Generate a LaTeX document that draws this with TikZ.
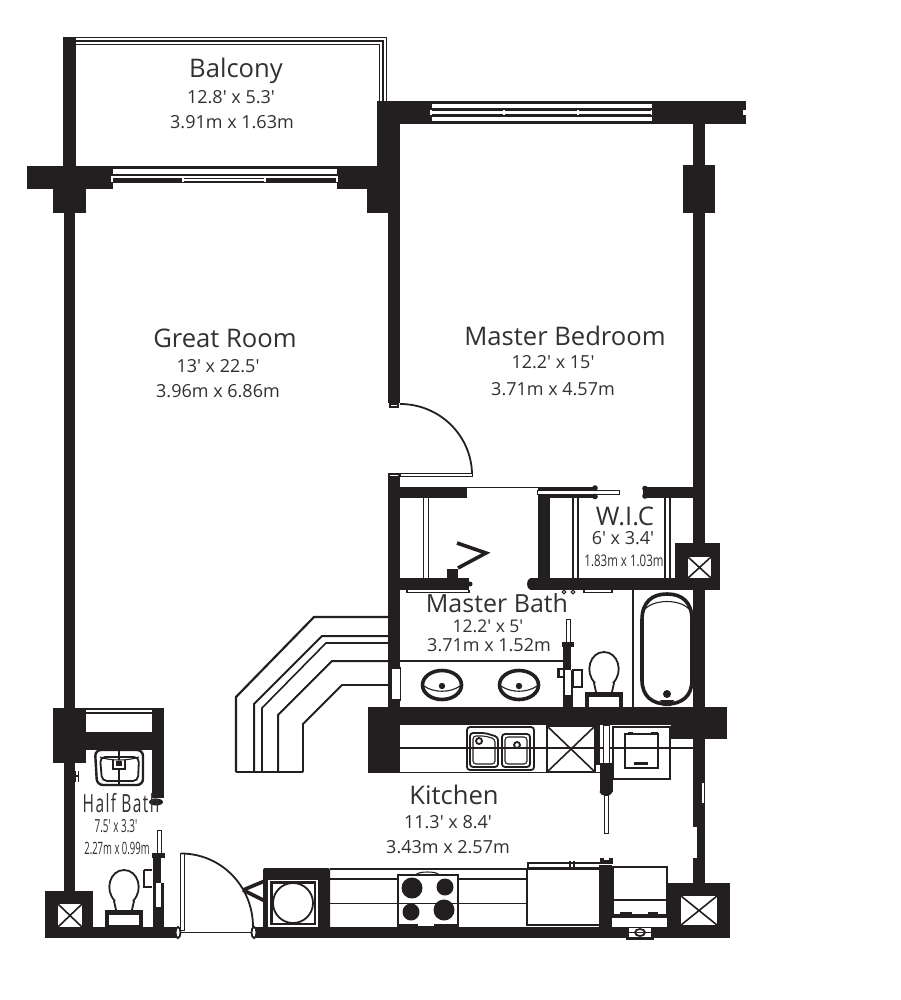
\documentclass[tikz,border=0pt]{standalone}
\usepackage{fontspec}
\setmainfont{Open Sans}
\definecolor{ink}{HTML}{231F20}
\definecolor{txt}{HTML}{333031}
\tikzset{
  wallfill/.style={fill=ink,draw=none},
  paper/.style={fill=white,draw=none},
  thin line/.style={draw=ink,line width=1.1pt},
  mid line/.style={draw=ink,line width=1.8pt},
  thick line/.style={draw=ink,line width=3.6pt},
  leaf/.style={fill=white,draw=ink,line width=1pt},
  post/.style={draw=white,line width=1.8pt},
  room/.style={text=txt,font=\fontsize{25.6}{26}\selectfont,inner sep=0pt},
  dim/.style={text=txt,font=\fontsize{18}{18}\selectfont,inner sep=0pt},
}
\newcommand{\blk}[4]{\fill[wallfill] (#1,#2) rectangle (#3,#4);}
\newcommand{\wht}[4]{\fill[paper] (#1,#2) rectangle (#3,#4);}
\newcommand{\xbox}[4]{\fill[paper] (#1,#2) rectangle (#3,#4);
  \draw[wallfill,draw=ink,line width=1.6pt] (#1,#2) -- (#3,#4) (#1,#4) -- (#3,#2);}
\newcommand{\toilet}[2]{%
  \draw[mid line,fill=white] (#1-9,#2+13) .. controls (#1-20,#2+2) and (#1-14,#2-18) .. (#1,#2-18)
     .. controls (#1+14,#2-18) and (#1+20,#2+2) .. (#1+9,#2+13);
  \draw[mid line] (#1-10,#2+13) -- (#1-8,#2+22) (#1+10,#2+13) -- (#1+8,#2+22);
  \fill[wallfill] (#1-19,#2+22) rectangle (#1+19,#2+39);
  \fill[paper] (#1-15,#2+27) rectangle (#1+15,#2+37);}
\newcommand{\basin}[2]{%
  \draw[draw=ink,line width=3.6pt,fill=white] (#1,#2) ellipse [x radius=19.5pt,y radius=14.5pt];
  \draw[thin line] (#1-18,#2+1) .. controls (#1-8,#2+8) and (#1+8,#2+8) .. (#1+18,#2+1);
  \fill[wallfill] (#1,#2+1) circle (3.2pt);}
\begin{document}
\begin{tikzpicture}[x=1pt,y=-1pt]
\useasboundingbox[fill=white] (0,0) rectangle (900,1000);

% balcony rail
\draw[thin line] (76,37.5) -- (386.5,37.5) -- (386.5,101);
\draw[thin line] (76,41) -- (383,41) -- (383,101);
\draw[thin line] (76,44.5) -- (379.5,44.5) -- (379.5,101);

% left wall and pier
\blk{63}{37}{76}{168}
\blk{26.5}{166}{113}{189}
\blk{53}{189}{86}{213}
\blk{64}{213}{75}{710}
% centre wall
\blk{337}{166}{400}{189}
\blk{367}{189}{400}{213}
\blk{377}{101}{432}{124}
\blk{377}{124}{400}{166}
\blk{388}{213}{400}{403}
% balcony sliding door
\blk{113}{166}{337}{169}
\blk{113}{174}{337}{176}
\blk{113}{178}{337}{183}
\wht{183}{179.5}{265}{181.5}
\foreach \mx in {112,183,265,337}{\draw[post] (\mx,176) -- (\mx,182);}
% bedroom window and top wall
\blk{432}{101}{652}{104}
\blk{432}{108.5}{652}{111}
\blk{432}{114}{652}{117}
\blk{432}{121}{652}{124}
\foreach \mx in {431,504,578,652}{\draw[post] (\mx,110) -- (\mx,115);}
\blk{652}{101}{746}{124}
\wht{743}{110}{747}{115}
\blk{693}{124}{705}{165}
\blk{683}{165}{715}{213}
\blk{693}{213}{705}{543}

% bedroom door
\draw[mid line] (400,404) .. controls (440,404) and (472,436) .. (472,475);
\draw[leaf] (400,473.5) rectangle (472,476);
\blk{389}{401}{399}{406}
\draw[thin line,fill=white] (390,405) -- (390,407) -- (398,407) -- (398,405);
\blk{388}{476}{400}{708}
\draw[thin line,fill=white] (389,474) rectangle (399,477);
% bath top
\blk{400}{487}{467}{497.5}
\draw[thin line] (467,487.5) -- (538,487.5);
\blk{538}{487}{550}{589}
\blk{538}{487}{594}{490}
\blk{550}{494}{594}{497.5}
\draw[leaf] (537,490.5) rectangle (619,494);
\fill[wallfill] (595,488) circle (2.8pt) (595,496.5) circle (2.8pt);
\blk{643}{487}{693}{497.5}
\fill[wallfill] (645,488.5) circle (2.8pt) (645,496) circle (2.8pt);
% closet rods
\foreach \rx/\ry in {423.5/428.5,573/578,665/670}{
  \draw[thin line] (\rx,497) -- (\rx,578) (\ry,497) -- (\ry,578);}
% bath partition
\blk{400}{578}{469}{589.5}
\fill[wallfill] (470,584) circle (2.5pt);
\blk{530}{578}{676}{589.5}
\fill[wallfill] (530,584) ellipse [x radius=3pt,y radius=5.5pt];
\draw[thin line] (407,589.5) -- (407,592.5) -- (469,592.5) -- (469,589.5);
\draw[thin line] (584,589.5) -- (584,592.5) -- (612,592.5) -- (612,589.5);
\draw[thin line,fill=white] (564,592) circle (1.9pt) (573,592) circle (1.9pt);
% shaft upper right
\blk{675}{543}{720}{589.5}
\xbox{688}{557}{711}{578}
\blk{693}{589}{705}{710}
% bath door swing
\blk{447}{569}{458}{578}
\draw[thick line] (458,568) -- (486,553) -- (457,543);

% master bath fixtures
\draw[thin line] (400,661) -- (563,661);
\fill[paper] (391,668) rectangle (400.5,700);
\draw[thin line] (391,668) rectangle (400.5,700);
\basin{442}{685}
\basin{519}{685}
\blk{563}{647}{571}{670}
\blk{563}{695}{573}{707}
\blk{563}{670}{565}{695}
\blk{571}{670}{573}{695}
\draw[leaf] (566,619) rectangle (570,643);
\fill[wallfill] (562,642) rectangle (574,647);
\blk{558}{668}{563}{678}
\wht{560}{670}{563}{676}
\draw[thin line] (558,668) -- (558,678);
\draw[thin line] (573,670) rectangle (582,687);
\toilet{604}{670}
% tub
\draw[thin line] (633,589) -- (633,707);
\draw[draw=ink,line width=3.6pt,fill=white] (642,620) .. controls (642,602) and (652,594) .. (667,594)
  .. controls (682,594) and (692,602) .. (692,620) -- (692,680)
  .. controls (692,696) and (682,704) .. (667,704)
  .. controls (652,704) and (642,696) .. (642,680) -- cycle;
\draw[thin line] (643,612) .. controls (650,598) and (684,598) .. (691,612);
\fill[wallfill] (667,694) circle (4pt);
\fill[wallfill] (660,700) -- (674,700) -- (671,706) -- (663,706) -- cycle;

% kitchen / bath band
\blk{368}{707}{727}{725}
\blk{671}{725}{727}{739}
\blk{368}{725}{400}{773}
\draw[thin line] (400,772.5) -- (600,772.5);
% stepped lines
\foreach \a/\b/\c/\d/\e/\f/\g in {236/697/314/617/388/617/2.2,254/704/322/636/388/636/2,262/708/326/643/388/643/1.6,278/715/332/661/388/661/2,303/724/342/685/388/685/1.8}{
  \draw[draw=ink,line width=\g pt] (\a,772) -- (\a,\b) -- (\c,\d) -- (\e,\f);}
\draw[thin line] (236,772) -- (303,772);
% sink
\draw[mid line,rounded corners=3pt,fill=white] (467,727) rectangle (534,770);
\draw[mid line,rounded corners=3pt] (470,733) -- (485,733) -- (498,737) -- (498,767) -- (470,767) -- cycle;
\draw[thin line,rounded corners=3pt] (473,736) -- (485,736) -- (495,739) -- (495,764) -- (473,764) -- cycle;
\draw[mid line,rounded corners=3pt] (502,734) rectangle (530,767);
\draw[thin line,rounded corners=3pt] (505,737) rectangle (527,764);
\draw[mid line] (479,741) circle (3pt) (517,745) circle (3pt);
\xbox{547}{726}{595}{772}
\draw[thin line] (547,726) rectangle (595,772);
% kitchen partition
\blk{596}{725}{600}{765}
\draw[leaf] (603,725) rectangle (609,763);
\blk{600}{763}{612.5}{792}
\fill[wallfill] (606,792) ellipse [x radius=6.5pt,y radius=3.5pt];
\draw[leaf] (604.5,795) rectangle (608.5,833);
% dishwasher
\draw[mid line,fill=white] (613,727) rectangle (670,779);
\draw[mid line] (625,734) rectangle (658,768);
\blk{634}{762}{648}{765}
\blk{628}{732}{633}{735}
\blk{651}{732}{658}{735}
\draw[thin line] (400,748) -- (603,748) (609,748) -- (693,748);
% right wall lower
\blk{693}{739}{705}{883}
\wht{701}{783}{703.5}{803}
\wht{693}{827}{698}{858}
\draw[thin line] (701,783) -- (701,803);
\draw[thin line] (698,827) -- (698,858);

% half bath
\blk{53}{708}{86}{763}
\blk{86}{708}{152}{710}
\blk{86}{712}{152}{714}
\blk{86}{732}{164}{750}
\blk{152}{708}{164}{798}
\fill[wallfill] (156,802) ellipse [x radius=7pt,y radius=3.5pt];
\blk{64}{763}{75}{892}
\draw[thin line] (75,771) -- (75,782) (78.5,771) -- (78.5,782) (75,776) -- (78.5,776);
% half bath basin
\draw[draw=ink,line width=2.4pt,rounded corners=6pt,fill=white] (95,750) -- (143,750) -- (143,785) -- (97,785) -- cycle;
\draw[mid line,rounded corners=5pt] (100,757) -- (139,757) -- (138,781) -- (102,781) -- cycle;
\draw[thin line] (119,750) -- (119,785);
\draw[mid line,fill=white] (113,760) -- (113,769) -- (125,769) -- (125,760);
\blk{116}{761}{122}{766}
\draw[thin line] (100,757) .. controls (110,761) and (128,761) .. (139,757);
% half bath lower
\draw[leaf] (157,830) rectangle (161,853);
\blk{151.5}{853}{165}{858}
\blk{152.5}{858}{161}{883}
\blk{152.5}{883}{156}{907}
\blk{161}{883}{164}{907}
\blk{152.5}{907}{164}{927}
\wht{156}{883}{161}{907}
\draw[thin line] (144,870) -- (144,887) -- (152,887) (144,870) -- (152,870);
\toilet{124}{888}
\blk{45}{891}{93}{938}
\xbox{58}{904}{82}{927}
% bottom wall
\blk{45}{927}{177}{938}
\blk{253}{927}{730}{938}
% entry door
\draw[leaf] (180,853) rectangle (184,930);
\draw[mid line] (181,853.5) .. controls (221,853.5) and (253,886) .. (253,927);
\draw[thin line] (178,932.5) -- (254,932.5);
\draw[mid line,fill=white] (178,932.5) ellipse [x radius=2.5pt,y radius=5.5pt];
\draw[mid line,fill=white] (254,932.5) ellipse [x radius=2.5pt,y radius=5.5pt];
% washer closet
\fill[wallfill,rounded corners=2pt] (263,868) rectangle (330,930);
\wht{268}{880}{318}{927}
\draw[draw=ink,line width=2.2pt] (271.5,882.5) rectangle (315,924);
\draw[mid line] (293,903) circle (20pt);
\draw[thick line] (243,890) -- (267,880) (243,890) -- (267,902);
% counter
\draw[draw=ink,line width=1.8pt] (330,869) -- (527,869);
\draw[thin line] (330,879) -- (527,879);
% stove
\draw[thin line,fill=white] (398,875) rectangle (458,927);
\draw[thin line] (416,875) .. controls (417,871) and (438,871) .. (439,875);
\fill[wallfill] (412,888) circle (10.5pt) (445,887) circle (8.5pt) (411,912) circle (8.5pt) (444,910) circle (10.5pt);
\draw[mid line] (330,903.5) -- (527,903.5);
\blk{399}{924}{418}{927}
\blk{434}{924}{457}{927}
% fridge
\draw[thin line,fill=white] (527,869) rectangle (600,925);
\blk{527}{867}{600}{869.5}
\draw[thin line] (527,863) -- (600,863) (528,863) -- (528,869);
\draw[thin line] (570,860.5) -- (570,868) (574,860.5) -- (574,868);
\blk{599}{865}{612}{930}
\fill[wallfill] (600,858) rectangle (612.5,864);
\wht{604}{858}{608.5}{860}
% oven
\draw[mid line,fill=white] (613,867) rectangle (667,917);
\draw[mid line] (613,900) -- (667,900);
\blk{613}{914}{667}{918}
\blk{620}{912}{632}{915}
\blk{648}{912}{658}{915}
\wht{612.5}{918}{667}{923}
\blk{667}{883}{730}{938}
\xbox{681}{896}{717}{925}
\wht{629}{928}{651}{937}
\blk{626}{938}{654}{940}
\draw[mid line] (640,932.5) ellipse [x radius=5pt,y radius=3.5pt];
\draw[mid line] (628,932.5) -- (652,932.5);

% texts
\node[room] (balcony) at (236,71) {Balcony};
\node[dim] (balconyft) at (231,97) {12.8′ x 5.3′};
\node[dim] (balconym) at (232,122.5) {3.91m x 1.63m};
\node[room] (great) at (225,338.5) {Great Room};
\node[dim] (greatft) at (218,366.5) {13′ x 22.5′};
\node[dim] (greatm) at (218,391.5) {3.96m x 6.86m};
\node[room] (master) at (565,336) {Master Bedroom};
\node[dim] (masterft) at (553,362.5) {12.2′ x 15′};
\node[dim] (masterm) at (553,389.5) {3.71m x 4.57m};
\node[room] (wic) at (625,516) {W.I.C};
\node[dim,font=\fontsize{18}{18}\selectfont] (wicft) at (623,538.5) {6′ x 3.4′};
\node[dim,font=\fontsize{16}{16}\selectfont,xscale=.72] (wicm) at (624,561) {1.83m x 1.03m};
\node[room,font=\fontsize{25}{25}\selectfont] (bath) at (497,603) {Master Bath};
\node[dim,font=\fontsize{17.5}{18}\selectfont] (bathft) at (488,626) {12.2′ x 5′};
\node[dim] (bathm) at (489,645.5) {3.71m x 1.52m};
\node[room,font=\fontsize{25}{25}\addfontfeature{LetterSpace=9}\selectfont,xscale=.62] (half) at (121,803) {Half Bath};
\node[dim,font=\fontsize{18}{18}\selectfont,xscale=.55] (halfft) at (116,826) {7.5′ x 3.3′};
\node[dim,font=\fontsize{17}{17}\selectfont,xscale=.56] (halfm) at (117,848) {2.27m x 0.99m};
\node[room] (kitchen) at (454,794.5) {Kitchen};
\node[dim] (kitchenft) at (448,822.5) {11.3′ x 8.4′};
\node[dim] (kitchenm) at (448,847.5) {3.43m x 2.57m};
\end{tikzpicture}
\end{document}
